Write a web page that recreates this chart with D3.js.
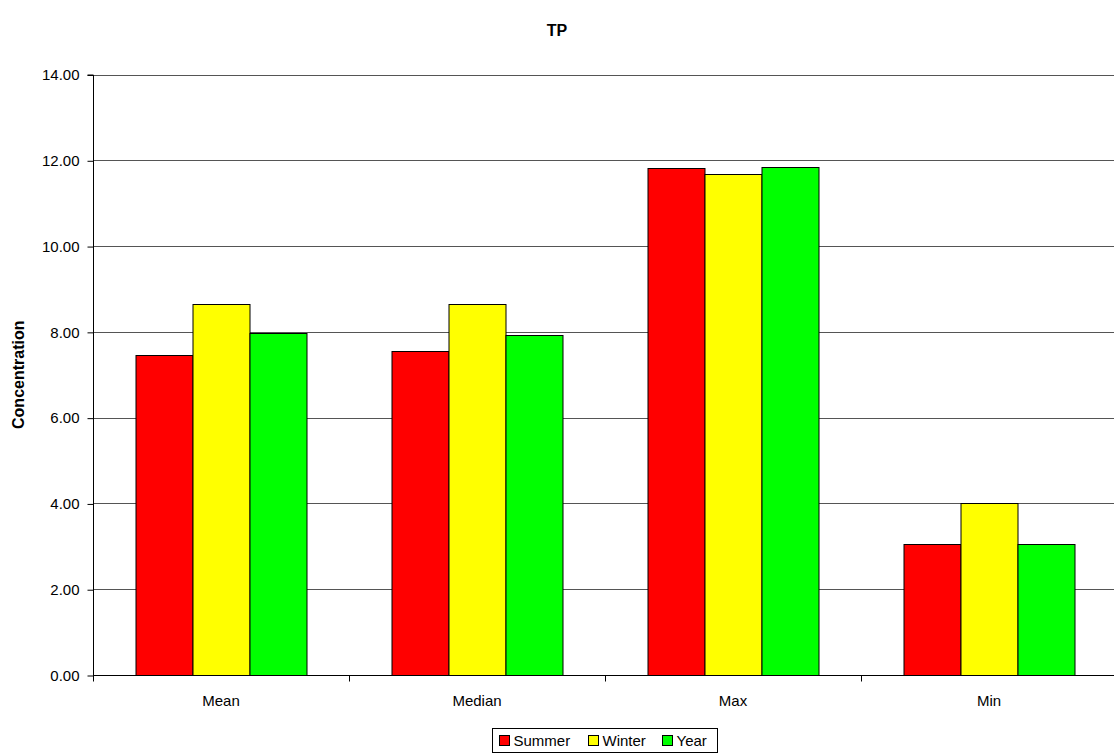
<!DOCTYPE html>
<html>
<head>
<meta charset="utf-8">
<script src="https://cdn.jsdelivr.net/npm/d3@7"></script>
<style>
  html, body { margin: 0; padding: 0; background: #fff; }
  svg { display: block; font-family: "Liberation Sans", Arial, sans-serif; }
</style>
</head>
<body>
<svg id="chart" width="1114" height="754"></svg>
<script>
// Statistic groups along the x axis
const categories = ["Mean", "Median", "Max", "Min"];
// Seasonal series
const seriesNames = ["Summer", "Winter", "Year"];
const seriesColors = ["#ff0000", "#ffff00", "#00ff00"];
const summer = [7.45, 7.56, 11.81, 3.06];
const winter = [8.66, 8.66, 11.67, 4.00];
const year   = [7.97, 7.92, 11.84, 3.06];
const yTicks = [0, 2, 4, 6, 8, 10, 12, 14];

const seriesValues = [summer, winter, year];

const svg = d3.select("#chart");
const W = 1114, H = 754;
// plot area runs slightly past the right edge of the canvas
const plot = { left: 93, right: 1117, top: 74.5, bottom: 675 };

const x = d3.scaleBand().domain(categories).range([plot.left, plot.right]).paddingInner(0).paddingOuter(0);
const groupWidth = x.bandwidth() * (171 / 256);
const xs = d3.scaleBand().domain(seriesNames).range([0, groupWidth]).padding(0);
const y = d3.scaleLinear().domain([0, 14]).range([plot.bottom, plot.top]);

// Title
svg.append("text")
  .attr("x", W / 2).attr("y", 36)
  .attr("text-anchor", "middle")
  .attr("font-weight", "bold").attr("font-size", 16)
  .text("TP");

// Horizontal gridlines
svg.append("g")
  .selectAll("line")
  .data(yTicks.filter(d => d > 0))
  .join("line")
  .attr("x1", plot.left).attr("x2", W)
  .attr("y1", d => Math.round(y(d)) + 0.5).attr("y2", d => Math.round(y(d)) + 0.5)
  .attr("stroke", "#555").attr("stroke-width", 1);

// Bars
const groups = svg.append("g")
  .selectAll("g")
  .data(categories)
  .join("g")
  .attr("transform", c => `translate(${x(c) + (x.bandwidth() - groupWidth) / 2},0)`);

groups.selectAll("rect")
  .data((c, i) => seriesNames.map((s, j) => ({ s, j, v: seriesValues[j][i] })))
  .join("rect")
  .attr("x", d => Math.round(xs(d.s)) + 0.5)
  .attr("width", xs.bandwidth())
  .attr("y", d => Math.round(y(d.v)) + 0.5)
  .attr("height", d => Math.round(y(0)) - Math.round(y(d.v)))
  .attr("fill", d => seriesColors[d.j])
  .attr("stroke", "#000").attr("stroke-width", 1);

// Y axis
const yAxis = d3.axisLeft(y).tickValues(yTicks).tickSize(6).tickPadding(8).tickFormat(d3.format(".2f"));
const yg = svg.append("g").attr("transform", `translate(${plot.left + 0.5},0.5)`).call(yAxis);
yg.select(".domain").attr("d", `M-6,${y(14)}H0V${y(0)}`).attr("stroke", "#000");
yg.selectAll("text").attr("font-size", 15).attr("font-family", "Liberation Sans, Arial, sans-serif").attr("fill", "#000");

// X axis: ticks sit at group boundaries
const xg = svg.append("g").attr("transform", `translate(0,${Math.round(plot.bottom) + 0.5})`);
xg.append("line").attr("x1", plot.left).attr("x2", W).attr("stroke", "#000");
const bounds = categories.map(c => x(c)).concat([x(categories[categories.length - 1]) + x.bandwidth()]);
xg.selectAll("line.tick")
  .data(bounds)
  .join("line")
  .attr("class", "tick")
  .attr("x1", d => Math.round(d) + 0.5).attr("x2", d => Math.round(d) + 0.5)
  .attr("y1", 0).attr("y2", 6)
  .attr("stroke", "#000");
xg.selectAll("text")
  .data(categories)
  .join("text")
  .attr("x", c => x(c) + x.bandwidth() / 2)
  .attr("y", 30)
  .attr("text-anchor", "middle")
  .attr("font-size", 15)
  .text(c => c);

// Y axis title
svg.append("text")
  .attr("transform", `translate(24,${(plot.top + plot.bottom) / 2}) rotate(-90)`)
  .attr("text-anchor", "middle")
  .attr("font-weight", "bold").attr("font-size", 16)
  .text("Concentration");

// Legend
const legend = svg.append("g");
const lx = 492.5, ly = 728.5, lw = 225, lh = 24;
legend.append("rect").attr("x", lx).attr("y", ly).attr("width", lw).attr("height", lh)
  .attr("fill", "#fff").attr("stroke", "#000");
const itemX = [499, 588, 662];
const items = legend.selectAll("g.item")
  .data(seriesNames)
  .join("g")
  .attr("class", "item")
  .attr("transform", (d, i) => `translate(${itemX[i] + 0.5},0)`);
items.append("rect")
  .attr("x", 0).attr("y", 735.5).attr("width", 10).attr("height", 10)
  .attr("fill", (d, i) => seriesColors[i]).attr("stroke", "#000");
items.append("text")
  .attr("x", 14).attr("y", 746)
  .attr("font-size", 15)
  .text(d => d);
</script>
</body>
</html>
